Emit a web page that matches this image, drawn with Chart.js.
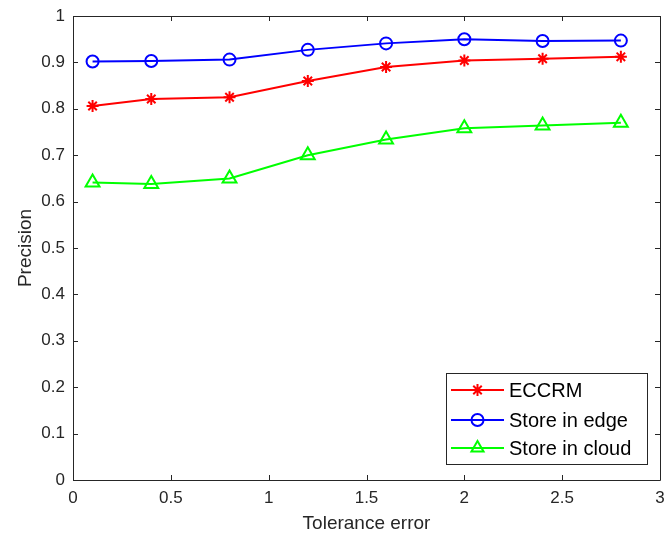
<!doctype html>
<html lang="en">
  <head>
    <meta charset="utf-8">
    <title>Precision vs tolerance error</title>
    <style>
      * { margin: 0; padding: 0; }
      body { background: #fff; }
      .chartBox { width: 665px; height: 536px; position: relative; }
    </style>
  </head>
  <body>
    <div class="chartBox">
      <canvas id="myChart"></canvas>
    </div>
    <script src="https://cdn.jsdelivr.net/npm/chart.js"></script>
    <script>
      // data
      const tolerance = [0.1, 0.4, 0.8, 1.2, 1.6, 2.0, 2.4, 2.8];
      const eccrm      = [0.806, 0.821, 0.825, 0.860, 0.890, 0.904, 0.908, 0.912];
      const storeEdge  = [0.902, 0.903, 0.906, 0.927, 0.941, 0.950, 0.946, 0.947];
      const storeCloud = [0.641, 0.638, 0.650, 0.700, 0.734, 0.758, 0.764, 0.770];
      const xTicks = [0, 0.5, 1, 1.5, 2, 2.5, 3];
      const yTicks = [0, 0.1, 0.2, 0.3, 0.4, 0.5, 0.6, 0.7, 0.8, 0.9, 1];

      const axisColor = '#262626';
      const font = 'Liberation Sans, Arial, Helvetica, sans-serif';

      const toPoints = ys => tolerance.map((x, i) => ({ x: x, y: ys[i] }));

      const data = {
        datasets: [
          {
            label: 'ECCRM',
            data: toPoints(eccrm),
            borderColor: '#ff0000',
            backgroundColor: '#ff0000',
            pointStyle: 'star',
            pointRadius: 6,
            pointBorderWidth: 2
          },
          {
            label: 'Store in edge',
            data: toPoints(storeEdge),
            borderColor: '#0000ff',
            backgroundColor: 'rgba(0,0,0,0)',
            pointStyle: 'circle',
            pointRadius: 6,
            pointBorderWidth: 2
          },
          {
            label: 'Store in cloud',
            data: toPoints(storeCloud),
            borderColor: '#00ff00',
            backgroundColor: 'rgba(0,0,0,0)',
            pointStyle: 'triangle',
            pointRadius: 8,
            pointBorderWidth: 2
          }
        ]
      };

      // matlab style box with inward ticks + legend in lower right
      const boxPlugin = {
        id: 'matlabBox',
        afterDraw(chart) {
          const ctx = chart.ctx;
          const a = chart.chartArea;
          const xs = chart.scales.x, ys = chart.scales.y;
          const t = 5;
          ctx.save();
          ctx.strokeStyle = axisColor;
          ctx.lineWidth = 1;
          ctx.beginPath();
          ctx.rect(a.left + 0.5, a.top + 0.5, a.right - a.left, a.bottom - a.top);
          xTicks.forEach(v => {
            const px = Math.round(xs.getPixelForValue(v)) + 0.5;
            ctx.moveTo(px, a.bottom); ctx.lineTo(px, a.bottom - t);
            ctx.moveTo(px, a.top); ctx.lineTo(px, a.top + t);
          });
          yTicks.forEach(v => {
            const py = Math.round(ys.getPixelForValue(v)) + 0.5;
            ctx.moveTo(a.left, py); ctx.lineTo(a.left + t, py);
            ctx.moveTo(a.right, py); ctx.lineTo(a.right - t, py);
          });
          ctx.stroke();

          // legend
          const lx = 446, ly = 373, lw = 201, lh = 91;
          ctx.fillStyle = '#fff';
          ctx.fillRect(lx, ly, lw, lh);
          ctx.strokeStyle = axisColor;
          ctx.strokeRect(lx + 0.5, ly + 0.5, lw, lh);
          const rows = [390, 420, 448];
          ctx.font = '20px ' + font;
          ctx.textBaseline = 'middle';
          chart.data.datasets.forEach((ds, i) => {
            const y = rows[i];
            ctx.strokeStyle = ds.borderColor;
            ctx.lineWidth = 2;
            ctx.beginPath();
            ctx.moveTo(451, y); ctx.lineTo(504, y);
            ctx.stroke();
            ctx.fillStyle = ds.backgroundColor;
            Chart.helpers.drawPoint(ctx, {
              pointStyle: ds.pointStyle,
              radius: ds.pointStyle === 'triangle' ? 7 : 6,
              borderWidth: 2,
              rotation: 0
            }, 477.5, y);
            ctx.fillStyle = '#000';
            ctx.fillText(ds.label, 509, y + 1);
          });
          ctx.restore();
        }
      };

      const config = {
        type: 'line',
        data,
        options: {
          responsive: true,
          maintainAspectRatio: false,
          animation: false,
          layout: { autoPadding: false, padding: { top: 16, right: 5, bottom: 0, left: 0 } },
          plugins: {
            legend: { display: false },
            tooltip: { enabled: false }
          },
          elements: {
            line: { borderWidth: 2, tension: 0 }
          },
          scales: {
            x: {
              type: 'linear',
              min: 0,
              max: 3,
              afterBuildTicks: s => { s.ticks = xTicks.map(v => ({ value: v })); },
              afterFit: s => { s.height = 56; s.paddingLeft = 0; s.paddingRight = 0; },
              grid: { display: false },
              border: { display: false },
              ticks: {
                color: axisColor,
                padding: 0,
                maxRotation: 0,
                font: { family: font, size: 17 },
                callback: v => String(v)
              },
              title: {
                display: true,
                text: 'Tolerance error',
                color: axisColor,
                font: { family: font, size: 19 },
                padding: { top: 0, bottom: 1 }
              }
            },
            y: {
              min: 0,
              max: 1,
              afterBuildTicks: s => { s.ticks = yTicks.map(v => ({ value: v })); },
              afterFit: s => { s.width = 73; s.paddingTop = 0; s.paddingBottom = 0; },
              grid: { display: false, drawTicks: false },
              border: { display: false },
              ticks: {
                color: axisColor,
                padding: 8,
                font: { family: font, size: 17 },
                callback: v => String(v)
              },
              title: {
                display: true,
                text: 'Precision',
                color: axisColor,
                font: { family: font, size: 19 },
                padding: { top: 14, bottom: 0 }
              }
            }
          }
        },
        plugins: [boxPlugin]
      };

      const myChart = new Chart(document.getElementById('myChart'), config);
    </script>
  </body>
</html>
